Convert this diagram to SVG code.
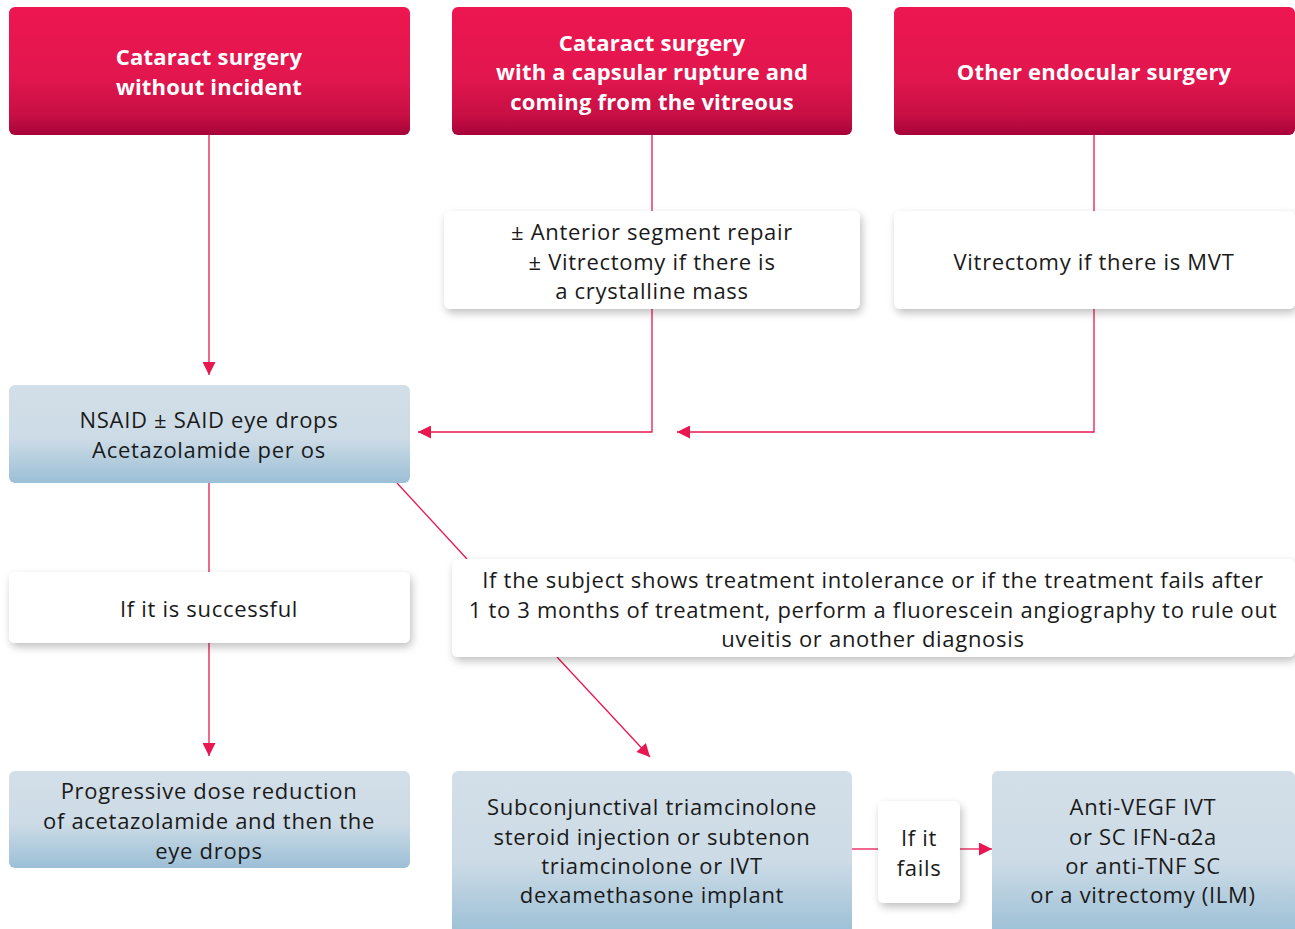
<svg xmlns="http://www.w3.org/2000/svg" width="1295" height="929" viewBox="0 0 1295 929">
<defs>
<linearGradient id="red" x1="0" y1="0" x2="0" y2="1">
<stop offset="0" stop-color="#ED1651"/><stop offset="0.55" stop-color="#E2164E"/><stop offset="0.85" stop-color="#C70F44"/><stop offset="1" stop-color="#A6033A"/>
</linearGradient>
<linearGradient id="blue" x1="0" y1="0" x2="0" y2="1">
<stop offset="0" stop-color="#D3DFE8"/><stop offset="0.55" stop-color="#CCDBE6"/><stop offset="1" stop-color="#9BBFD6"/>
</linearGradient>
<filter id="sh" x="-10%" y="-20%" width="120%" height="150%">
<feGaussianBlur in="SourceAlpha" stdDeviation="4"/><feOffset dx="2" dy="4"/>
<feComponentTransfer><feFuncA type="linear" slope="0.25"/></feComponentTransfer>
<feMerge><feMergeNode/><feMergeNode in="SourceGraphic"/></feMerge>
</filter>
<marker id="ah" viewBox="0 0 10 10" refX="10" refY="5" markerWidth="17" markerHeight="13" markerUnits="userSpaceOnUse" orient="auto">
<path d="M0,0 L10,5 L0,10 z" fill="#E8174F"/>
</marker>
</defs>
<style>
.hd{fill:url(#red)}
.bl{fill:url(#blue)}
.wh{fill:#fff;filter:url(#sh)}
.ht{font-family:"Open Sans","Liberation Sans",sans-serif;font-weight:bold;font-size:22px;letter-spacing:0.2px;fill:#fff;text-anchor:middle}
.t{font-family:"Open Sans","Liberation Sans",sans-serif;font-size:22px;letter-spacing:0.7px;fill:#1a1a1a;text-anchor:middle}
.c{stroke:#E8174F;stroke-width:1.3;fill:none}
</style>
<g id="connectors">
<path class="c" d="M209,135 V375" marker-end="url(#ah)"/>
<path class="c" d="M652,135 V211"/>
<path class="c" d="M652,309 V432 H418" marker-end="url(#ah)"/>
<path class="c" d="M1094,135 V211"/>
<path class="c" d="M1094,309 V432 H677" marker-end="url(#ah)"/>
<path class="c" d="M209,483 V572"/>
<path class="c" d="M209,643 V756" marker-end="url(#ah)"/>
<path class="c" d="M397,483 L467,559"/>
<path class="c" d="M557,657 L650,757" marker-end="url(#ah)"/>
<path class="c" d="M852,849 H878"/>
<path class="c" d="M960,849 H992" marker-end="url(#ah)"/>
</g>
<g id="n1"><rect class="hd" x="9" y="7" width="401" height="128" rx="6"/>
<text class="ht" x="209" y="65">Cataract surgery</text><text class="ht" x="209" y="95">without incident</text></g>
<g id="n2"><rect class="hd" x="452" y="7" width="400" height="128" rx="6"/>
<text class="ht" x="652" y="51">Cataract surgery</text><text class="ht" x="652" y="80">with a capsular rupture and</text><text class="ht" x="652" y="110">coming from the vitreous</text></g>
<g id="n3"><rect class="hd" x="894" y="7" width="401" height="128" rx="6"/>
<text class="ht" x="1094" y="80">Other endocular surgery</text></g>
<g id="n4"><rect class="wh" x="444" y="211" width="416" height="98" rx="6"/>
<text class="t" x="652" y="240">± Anterior segment repair</text><text class="t" x="652" y="270">± Vitrectomy if there is</text><text class="t" x="652" y="299">a crystalline mass</text></g>
<g id="n5"><rect class="wh" x="894" y="211" width="401" height="98" rx="6"/>
<text class="t" x="1094" y="270">Vitrectomy if there is MVT</text></g>
<g id="n6"><rect class="bl" x="9" y="385" width="401" height="98" rx="6"/>
<text class="t" x="209" y="428">NSAID ± SAID eye drops</text><text class="t" x="209" y="458">Acetazolamide per os</text></g>
<g id="n7"><rect class="wh" x="9" y="572" width="401" height="71" rx="6"/>
<text class="t" x="209" y="617">If it is successful</text></g>
<g id="n8"><rect class="wh" x="452" y="559" width="843" height="98" rx="6"/>
<text class="t" x="873" y="588">If the subject shows treatment intolerance or if the treatment fails after</text>
<text class="t" x="873" y="618">1 to 3 months of treatment, perform a fluorescein angiography to rule out</text>
<text class="t" x="873" y="647">uveitis or another diagnosis</text></g>
<g id="n9"><rect class="bl" x="9" y="771" width="401" height="97" rx="6"/>
<text class="t" x="209" y="799">Progressive dose reduction</text><text class="t" x="209" y="829">of acetazolamide and then the</text><text class="t" x="209" y="859">eye drops</text></g>
<g id="n10"><rect class="bl" x="452" y="771" width="400" height="164" rx="6"/>
<text class="t" x="652" y="815">Subconjunctival triamcinolone</text><text class="t" x="652" y="845">steroid injection or subtenon</text><text class="t" x="652" y="874">triamcinolone or IVT</text><text class="t" x="652" y="903">dexamethasone implant</text></g>
<g id="n11"><rect class="wh" x="878" y="801" width="82" height="102" rx="6"/>
<text class="t" x="919" y="846">If it</text><text class="t" x="919" y="876">fails</text></g>
<g id="n12"><rect class="bl" x="992" y="771" width="303" height="164" rx="6"/>
<text class="t" x="1143" y="815">Anti-VEGF IVT</text><text class="t" x="1143" y="845">or SC IFN-α2a</text><text class="t" x="1143" y="874">or anti-TNF SC</text><text class="t" x="1143" y="903">or a vitrectomy (ILM)</text></g>
</svg>
